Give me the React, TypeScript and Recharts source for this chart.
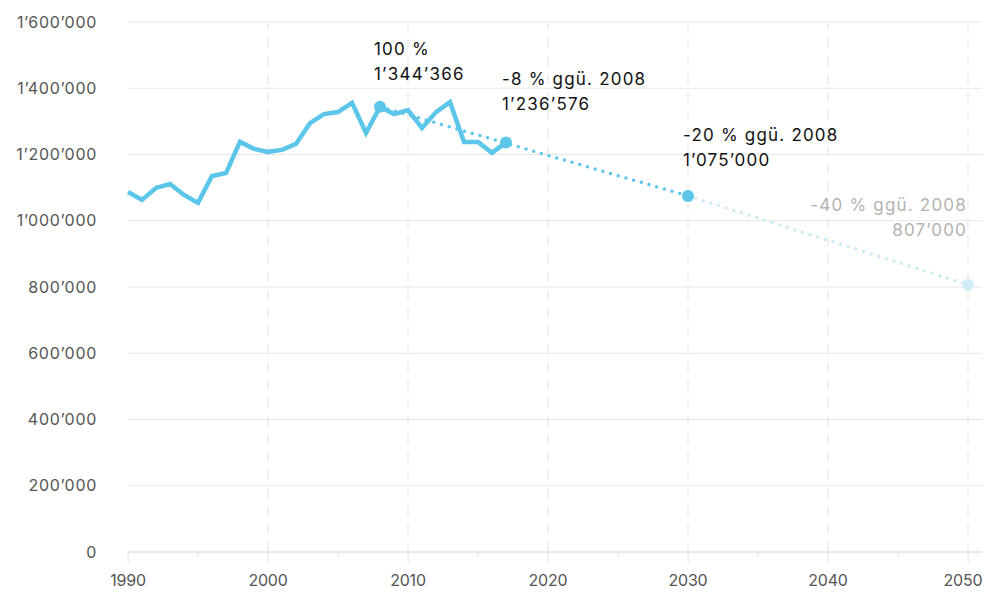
import React from "react";
import {
  LineChart,
  Line,
  XAxis,
  YAxis,
  CartesianGrid,
  ReferenceLine,
  ReferenceDot,
} from "recharts";

const years = [
  1990, 1991, 1992, 1993, 1994, 1995, 1996, 1997, 1998, 1999, 2000, 2001, 2002, 2003,
  2004, 2005, 2006, 2007, 2008, 2009, 2010, 2011, 2012, 2013, 2014, 2015, 2016, 2017,
];
const emissions = [
  1087000, 1063000, 1099000, 1111000, 1078000, 1054000, 1135000, 1144000, 1238000,
  1217000, 1208000, 1214000, 1232000, 1295000, 1322000, 1328000, 1356000, 1265000,
  1344366, 1322000, 1334000, 1280000, 1328000, 1358000, 1238000, 1238000, 1205000,
  1236576,
];

const targetYears = [2008, 2030];
const targetValues = [1344366, 1075000];
const longTermYears = [2030, 2050];
const longTermValues = [1075000, 807000];

const markerYears = [2008, 2017, 2030, 2050];
const markerValues = [1344366, 1236576, 1075000, 807000];
const markerTitles = ["100 %", "-8 % ggü. 2008", "-20 % ggü. 2008", "-40 % ggü. 2008"];
const markerNumbers = ["1’344’366", "1’236’576", "1’075’000", "807’000"];

const yTicks = [0, 200000, 400000, 600000, 800000, 1000000, 1200000, 1400000, 1600000];
const xTicks = [1990, 1995, 2000, 2005, 2010, 2015, 2020, 2025, 2030, 2035, 2040, 2045, 2050];
const decadeLines = [2000, 2010, 2020, 2030, 2040, 2050];

const BLUE = "#5BC5EA";
const LIGHT = "#CDEBF7";
const FONT = "Inter, 'Noto Sans', sans-serif";

const actual = years.map((year, i) => ({ year, v: emissions[i] }));
const target = targetYears.map((year, i) => ({ year, v: targetValues[i] }));
const longTerm = longTermYears.map((year, i) => ({ year, v: longTermValues[i] }));

// label placement for each marker (offsets from the dot)
const labelStyle = [
  { dx: -6, dy: -52, anchor: "start", color: "#111", dot: BLUE },
  { dx: -4, dy: -57, anchor: "start", color: "#111", dot: BLUE },
  { dx: -5, dy: -55, anchor: "start", color: "#111", dot: BLUE },
  { dx: -1, dy: -74, anchor: "end", color: "#b3b3b3", dot: "#D3EDF8" },
];

const fmt = (v: number) => String(v).replace(/\B(?=(\d{3})+(?!\d))/g, "’");

const XTick = (props: any) => {
  const { x, y, payload } = props;
  const major = payload.value % 10 === 0;
  const last = payload.value === 2050;
  return (
    <g>
      <line x1={x} x2={x} y1={y} y2={y + (major ? 11 : 5)} stroke="#e0e0e0" strokeWidth={1} />
      {major && (
        <text
          x={last ? x - 5 : x}
          y={y + 34}
          textAnchor="middle"
          fill="#555"
          fontSize={16}
          fontFamily={FONT}
          letterSpacing={-0.2}
        >
          {payload.value}
        </text>
      )}
    </g>
  );
};

const Marker = (i: number) => (props: any) => {
  const { cx, cy } = props;
  const s = labelStyle[i];
  return (
    <g>
      <circle cx={cx} cy={cy} r={6} fill={s.dot} />
      <text
        x={cx + s.dx}
        y={cy + s.dy}
        textAnchor={s.anchor}
        fill={s.color}
        fontSize={17}
        fontFamily={FONT}
        letterSpacing={1.2}
      >
        <tspan x={cx + s.dx}>{markerTitles[i]}</tspan>
        <tspan x={cx + s.dx} dy={25}>
          {markerNumbers[i]}
        </tspan>
      </text>
    </g>
  );
};

export default function App() {
  return (
    <div style={{ position: "absolute", left: 0, top: 0, background: "#fff" }}>
      <LineChart width={985} height={594} margin={{ top: 22, right: 3, bottom: 12, left: 0 }}>
        <CartesianGrid vertical={false} stroke="#e6e6e6" />
        {decadeLines.map((d) => (
          <ReferenceLine key={d} x={d} stroke="#e3e3e3" strokeDasharray="10 8" />
        ))}
        <XAxis
          type="number"
          dataKey="year"
          domain={[1990, 2051]}
          ticks={xTicks}
          interval={0}
          height={30}
          tickLine={false}
          tickSize={0}
          tickMargin={0}
          axisLine={{ stroke: "#e0e0e0" }}
          tick={<XTick />}
          allowDuplicatedCategory={false}
        />
        <YAxis
          type="number"
          domain={[0, 1600000]}
          ticks={yTicks}
          width={128}
          axisLine={false}
          tickLine={false}
          tickSize={0}
          tickMargin={31}
          tickFormatter={fmt}
          tick={{ fill: "#555", fontSize: 16, fontFamily: FONT, letterSpacing: 0.7 }}
        />
        <Line
          data={longTerm}
          dataKey="v"
          stroke={LIGHT}
          strokeWidth={3.5}
          strokeDasharray="0 8"
          strokeLinecap="round"
          dot={false}
          activeDot={false}
          isAnimationActive={false}
        />
        <Line
          data={target}
          dataKey="v"
          stroke={BLUE}
          strokeWidth={3.5}
          strokeDasharray="0 8"
          strokeLinecap="round"
          dot={false}
          activeDot={false}
          isAnimationActive={false}
        />
        <Line
          data={actual}
          dataKey="v"
          stroke={BLUE}
          strokeWidth={4.5}
          strokeLinejoin="miter"
          dot={false}
          activeDot={false}
          isAnimationActive={false}
        />
        {markerYears.map((yr, i) => (
          <ReferenceDot key={yr} x={yr} y={markerValues[i]} r={6} shape={Marker(i)} />
        ))}
      </LineChart>
    </div>
  );
}
